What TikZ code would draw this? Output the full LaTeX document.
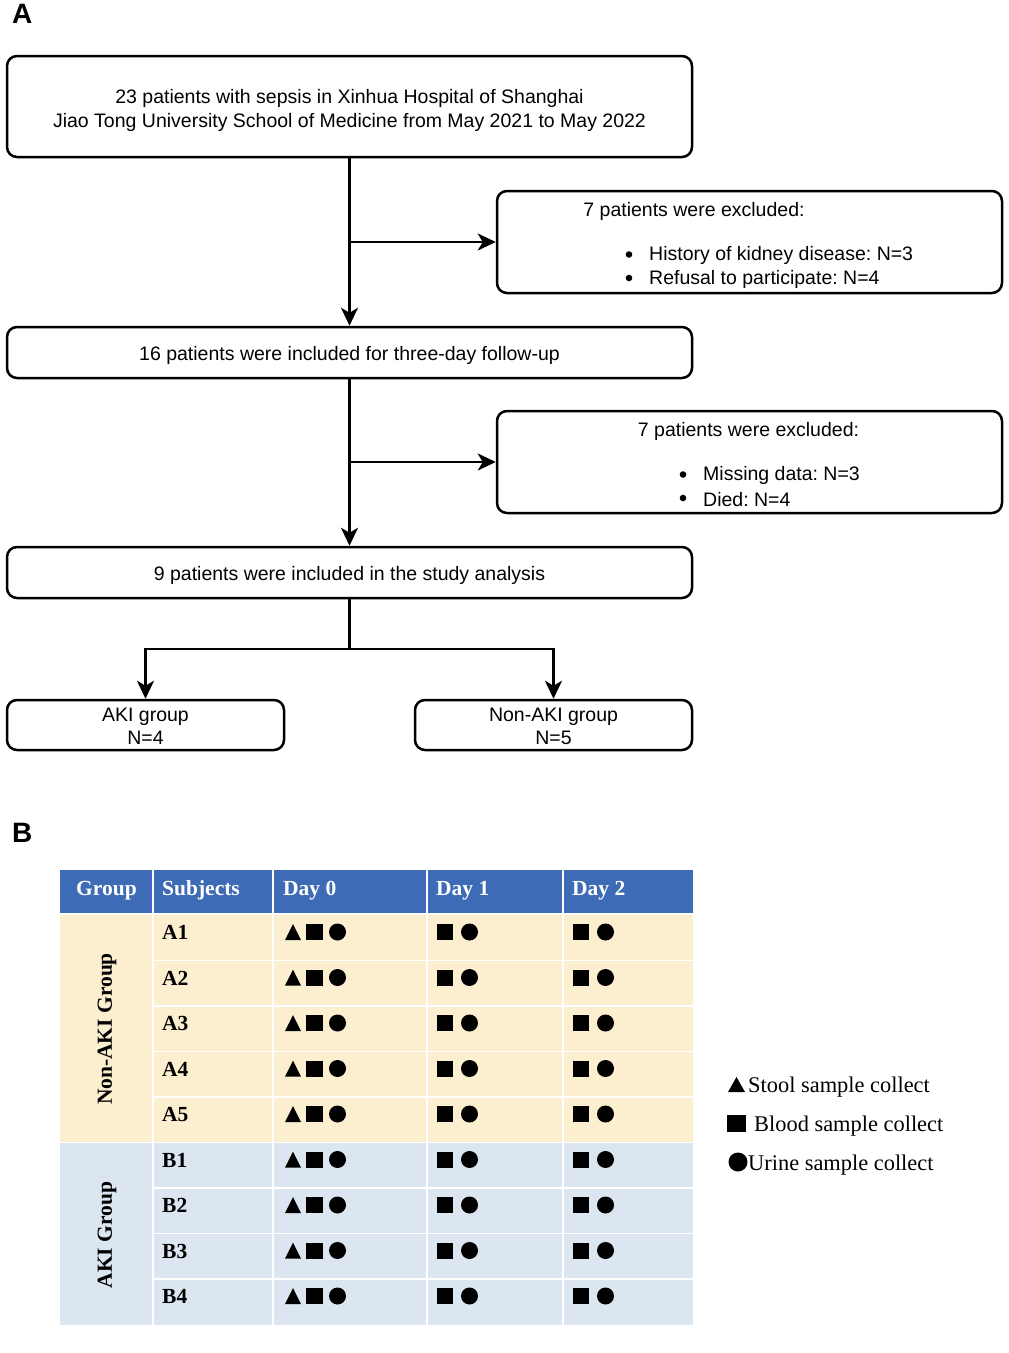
\documentclass[tikz,border=0pt]{standalone}
\usepackage{fontspec}
\setmainfont{Liberation Serif}
\setsansfont{Liberation Sans}
\usetikzlibrary{arrows.meta}
\definecolor{hdrblue}{RGB}{62,107,181}
\definecolor{rowyel}{RGB}{252,239,207}
\definecolor{rowblue}{RGB}{220,230,240}
\frenchspacing
\begin{document}
\begin{tikzpicture}[x=1pt,y=-1pt,
  fbox/.style={draw, line width=2.5pt, rounded corners=10pt, inner sep=0pt},
  ftext/.style={inner sep=0pt, align=center, font=\sffamily\fontsize{19.5}{23.5}\selectfont},
  arr/.style={line width=2.5pt, -{Stealth[length=18pt,width=17pt,inset=5pt]}},
  conn/.style={line width=2.5pt},
  panel/.style={inner sep=0pt, font=\sffamily\bfseries\fontsize{28}{30}\selectfont},
  hdr/.style={inner sep=0pt, text=white, font=\rmfamily\bfseries\fontsize{21.5}{24}\selectfont},
  cell/.style={inner sep=0pt, font=\rmfamily\bfseries\fontsize{21.5}{24}\selectfont},
  leg/.style={inner sep=0pt, font=\rmfamily\fontsize{22.4}{24}\selectfont},
  grid/.style={white, line width=1.6pt}]
\useasboundingbox (0,0) rectangle (1009,1353);
% ---------- Panel A ----------
\node[panel, anchor=north west] (pa) at (12,4) {A};
\node[fbox, minimum width=685pt, minimum height=101pt] (b1) at (349.5,106.5) {};
\node[ftext] (b1t) at ([yshift=-4pt]b1.center)
  {23 patients with sepsis in Xinhua Hospital of Shanghai\\Jiao Tong University School of Medicine from May 2021 to May 2022};
\node[fbox, minimum width=505pt, minimum height=102pt] (e1) at (749.5,242) {};
\node[ftext] (e1t) at (694,211) {7 patients were excluded:};
\node[ftext, anchor=west] (e1a) at (649,255.5) {History of kidney disease: N=3};
\node[ftext, anchor=west] (e1b) at (649,279.5) {Refusal to participate: N=4};
\fill (629,254.5) circle (3.3);
\fill (629,278) circle (3.3);
\node[fbox, minimum width=685pt, minimum height=51pt] (b2) at (349.5,352.5) {};
\node[ftext] (b2t) at ([yshift=-3pt]b2.center) {16 patients were included for three-day follow-up};
\node[fbox, minimum width=505pt, minimum height=102pt] (e2) at (749.5,462) {};
\node[ftext] (e2t) at (748.5,431) {7 patients were excluded:};
\node[ftext, anchor=west] (e2a) at (703,475.5) {Missing data: N=3};
\node[ftext, anchor=west] (e2b) at (703,499.5) {Died: N=4};
\fill (683,474.5) circle (3.3);
\fill (683,498) circle (3.3);
\node[fbox, minimum width=685pt, minimum height=51pt] (b3) at (349.5,572.5) {};
\node[ftext] (b3t) at ([yshift=-3pt]b3.center) {9 patients were included in the study analysis};
\node[fbox, minimum width=277pt, minimum height=50pt] (aki) at (145.5,725) {};
\node[ftext] (akit) at ([yshift=-1.5pt]aki.center) {AKI group\\N=4};
\node[fbox, minimum width=277pt, minimum height=50pt] (naki) at (553.5,725) {};
\node[ftext] (nakit) at ([yshift=-1.5pt]naki.center) {Non-AKI group\\N=5};
\draw[arr] (b1.south) -- (b2.north);
\draw[arr] (b1.south |- e1.west) -- (e1.west);
\draw[arr] (b2.south) -- (b3.north);
\draw[arr] (b2.south |- e2.west) -- (e2.west);
\coordinate (split) at (349.5,649);
\draw[conn] (b3.south) -- (split);
\draw[arr] (split) -| (aki.north);
\draw[arr] (split) -| (naki.north);
% ---------- Panel B ----------
\node[panel, anchor=north west] (pb) at (12,823) {B};
\fill[hdrblue] (60,870) rectangle (693,913);
\fill[rowyel] (60,915) rectangle (693,1142.5);
\fill[rowblue] (60,1142.5) rectangle (693,1325);
\foreach \xx in {153,273,427,563} \draw[grid] (\xx,870) -- (\xx,1325);
\foreach \i in {1,2,3,4,6,7,8} \draw[grid] (153,915+45.5*\i) -- (693,915+45.5*\i);
\draw[grid] (60,1142.5) -- (693,1142.5);
\node[hdr, anchor=base] (h1) at (106.5,895) {Group};
\node[hdr, anchor=base west] (h2) at (162,895) {Subjects};
\node[hdr, anchor=base west] (h3) at (283,895) {Day 0};
\node[hdr, anchor=base west] (h4) at (436,895) {Day 1};
\node[hdr, anchor=base west] (h5) at (572,895) {Day 2};
\node[cell, rotate=90] (g1) at (107,1029) {Non-AKI Group};
\node[cell, rotate=90] (g2) at (107,1235) {AKI Group};
\foreach \lab [count=\i from 0, evaluate=\i as \ty using 932+45.5*\i] in {A1,A2,A3,A4,A5,B1,B2,B3,B4} {
  \node[cell, anchor=base west] (s\i) at (162,\ty+7.5) {\lab};
  \fill (285,\ty+8) -- (301,\ty+8) -- (293,\ty-8) -- cycle;
  \fill (306,\ty-8) rectangle (323,\ty+8);
  \fill (337.5,\ty) circle (8.5);
  \fill (437,\ty-8) rectangle (453,\ty+8);
  \fill (469.5,\ty) circle (8.5);
  \fill (573,\ty-8) rectangle (589,\ty+8);
  \fill (605.5,\ty) circle (8.5);
}
% legend
\fill (728,1092) -- (745,1092) -- (736.5,1077) -- cycle;
\node[leg, anchor=base west] (l1) at (748,1092) {Stool sample collect};
\fill (727,1115) rectangle (746,1132);
\node[leg, anchor=base west] (l2) at (754,1131) {Blood sample collect};
\fill (738,1162) circle (9.5);
\node[leg, anchor=base west] (l3) at (748,1170) {Urine sample collect};
\end{tikzpicture}
\end{document}
